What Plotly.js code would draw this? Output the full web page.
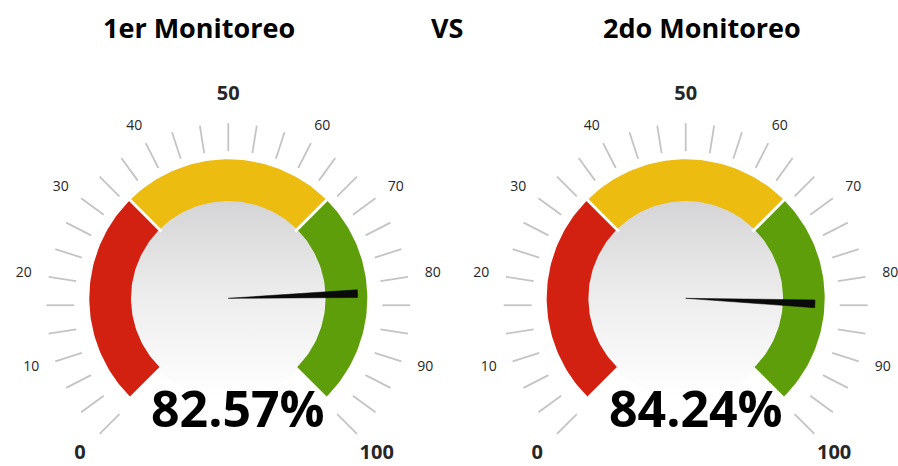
<!DOCTYPE html>
<html><head><meta charset="utf-8">
<script src="https://cdn.plot.ly/plotly-3.0.1.min.js"></script>
<style>html,body{margin:0;padding:0;background:#fff;overflow:hidden}#chart{width:898px;height:466px;}</style>
</head><body><div id="chart"></div>
<script>
// ---- data ----
const gaugeTitles = ['1er Monitoreo', '2do Monitoreo'];
const middleTitle = 'VS';
const gaugeValues = [82.57, 84.24];
const bandStarts = [0, 33.33, 66.67];
const bandEnds = [33.33, 66.67, 100];
const bandColors = ['#d32111', '#edbc10', '#5f9e0b'];
const scaleMin = 0;
const scaleMax = 100;
const tickDivisions = 30;
const labelValues = [0, 10, 20, 30, 40, 50, 60, 70, 80, 90, 100];
const labelTexts = ['0', '10', '20', '30', '40', '50', '60', '70', '80', '90', '100'];
const boldLabels = ['0', '50', '100'];

// ---- geometry / style ----
const W = 898, H = 466, PX = 139;            // pixels per gauge unit
const centersPx = [228.3, 685.7], cyPx = 298.3;
const R_OUT = 1.0, R_IN = 0.70, R_FACE = 0.72;
const TICK_CY = -0.05, TICK_R0 = 1.108, TICK_R1 = 1.309;
const LAB_RX = 1.49, LAB_RY = 1.44, LAB_RX_BOLD = 1.51, LAB_RY_BOLD = 1.515;
const NEEDLE_R = 0.93, NEEDLE_HALF = 0.028;
const FONT = 'Open Sans, Noto Sans, sans-serif';

function ang(v) { return (225 - 270 * (v - scaleMin) / (scaleMax - scaleMin)) * Math.PI / 180; }
function arc(r, v0, v1, n) {
  const xs = [], ys = [];
  for (let k = 0; k <= n; k++) {
    const a = ang(v0 + (v1 - v0) * k / n);
    xs.push(r * Math.cos(a)); ys.push(r * Math.sin(a));
  }
  return [xs, ys];
}

const traces = [];
const annotations = [];
const layout = {
  width: W, height: H, margin: {l: 0, r: 0, t: 0, b: 0},
  paper_bgcolor: '#ffffff', plot_bgcolor: 'rgba(0,0,0,0)',
  showlegend: false, annotations: annotations
};

gaugeValues.forEach((val, i) => {
  const xa = i === 0 ? 'x' : 'x2', ya = i === 0 ? 'y' : 'y2';
  const axKey = i === 0 ? '' : '2';
  const dom = i === 0 ? [0, 0.5] : [0.5, 1];
  const left = dom[0] * W, right = dom[1] * W;
  const cx = centersPx[i];
  const axBase = {showgrid: false, zeroline: false, showticklabels: false, showline: false, ticks: '', fixedrange: true};
  layout['xaxis' + axKey] = Object.assign({}, axBase, {domain: dom, range: [-(cx - left) / PX, (right - cx) / PX], anchor: ya});
  layout['yaxis' + axKey] = Object.assign({}, axBase, {domain: [0, 1], range: [-(H - cyPx) / PX, cyPx / PX], anchor: xa});

  // face with vertical gradient
  const fx = [], fy = [];
  for (let k = 0; k <= 120; k++) { const a = k / 120 * 2 * Math.PI; fx.push(R_FACE * Math.cos(a)); fy.push(R_FACE * Math.sin(a)); }
  traces.push({type: 'scatter', xaxis: xa, yaxis: ya, x: fx, y: fy, mode: 'lines', line: {width: 0, color: 'rgba(0,0,0,0)'},
    fill: 'toself', fillcolor: '#e8e8e8',
    fillgradient: {type: 'vertical', colorscale: [[0, '#ffffff'], [0.5, '#ededed'], [1, '#d4d4d6']]}, hoverinfo: 'skip'});

  // colour bands
  bandStarts.forEach((s, b) => {
    const e = bandEnds[b];
    const [ox, oy] = arc(R_OUT, s, e, 60);
    const [ix, iy] = arc(R_IN, e, s, 60);
    traces.push({type: 'scatter', xaxis: xa, yaxis: ya, x: ox.concat(ix, [ox[0]]), y: oy.concat(iy, [oy[0]]),
      mode: 'lines', line: {width: 0, color: bandColors[b]}, fill: 'toself', fillcolor: bandColors[b], hoverinfo: 'skip'});
  });
  // white separators between bands
  const sx = [], sy = [];
  bandEnds.slice(0, -1).forEach(e => {
    const a = ang(e);
    sx.push((R_IN - 0.02) * Math.cos(a), (R_OUT + 0.02) * Math.cos(a), null);
    sy.push((R_IN - 0.02) * Math.sin(a), (R_OUT + 0.02) * Math.sin(a), null);
  });
  traces.push({type: 'scatter', xaxis: xa, yaxis: ya, x: sx, y: sy, mode: 'lines', line: {width: 3, color: '#ffffff'}, hoverinfo: 'skip'});

  // tick marks
  const tx = [], ty = [];
  for (let k = 0; k <= tickDivisions; k++) {
    const a = ang(scaleMin + (scaleMax - scaleMin) * k / tickDivisions);
    tx.push(TICK_R0 * Math.cos(a), TICK_R1 * Math.cos(a), null);
    ty.push(TICK_CY + TICK_R0 * Math.sin(a), TICK_CY + TICK_R1 * Math.sin(a), null);
  }
  traces.push({type: 'scatter', xaxis: xa, yaxis: ya, x: tx, y: ty, mode: 'lines', line: {width: 1.8, color: '#c4c4c4'}, hoverinfo: 'skip'});

  // tick labels
  const lx = [], ly = [], lt = [], ls = [];
  labelValues.forEach((v, k) => {
    const bold = boldLabels.includes(labelTexts[k]);
    const a = ang(v);
    lx.push((bold ? LAB_RX_BOLD : LAB_RX) * Math.cos(a));
    ly.push(TICK_CY + (bold ? LAB_RY_BOLD : LAB_RY) * Math.sin(a));
    lt.push(bold ? '<b>' + labelTexts[k] + '</b>' : labelTexts[k]);
    ls.push(bold ? 20 : 14);
  });
  traces.push({type: 'scatter', xaxis: xa, yaxis: ya, x: lx, y: ly, text: lt, mode: 'text', textposition: 'middle center',
    cliponaxis: false, textfont: {family: FONT, size: ls, color: '#262626'}, hoverinfo: 'skip'});

  // needle
  const a = ang(val);
  const ux = Math.cos(a), uy = Math.sin(a), px = -uy, py = ux;
  traces.push({type: 'scatter', xaxis: xa, yaxis: ya,
    x: [0, NEEDLE_R * ux + NEEDLE_HALF * px, NEEDLE_R * ux - NEEDLE_HALF * px, 0],
    y: [0, NEEDLE_R * uy + NEEDLE_HALF * py, NEEDLE_R * uy - NEEDLE_HALF * py, 0],
    mode: 'lines', line: {width: 0.5, color: '#000000'}, fill: 'toself', fillcolor: '#0a0a0a', hoverinfo: 'skip'});

  // value text
  annotations.push({xref: xa, yref: ya, x: 0, y: -0.79, xshift: 10, text: '<b>' + val.toFixed(2) + '%</b>', showarrow: false,
    font: {family: FONT, size: 50, color: '#000000'}, xanchor: 'center', yanchor: 'middle'});

  // gauge title
  annotations.push({xref: 'paper', yref: 'paper', x: (i === 0 ? 199 : 701.7) / W, y: 1 - 28 / H, text: '<b>' + gaugeTitles[i] + '</b>',
    showarrow: false, font: {family: FONT, size: 27, color: '#000000'}, xanchor: 'center', yanchor: 'middle'});
});

annotations.push({xref: 'paper', yref: 'paper', x: 446.7 / W, y: 1 - 28 / H, text: '<b>' + middleTitle + '</b>',
  showarrow: false, font: {family: FONT, size: 27, color: '#000000'}, xanchor: 'center', yanchor: 'middle'});

Plotly.newPlot('chart', traces, layout, {staticPlot: true, displayModeBar: false});
</script></body></html>
